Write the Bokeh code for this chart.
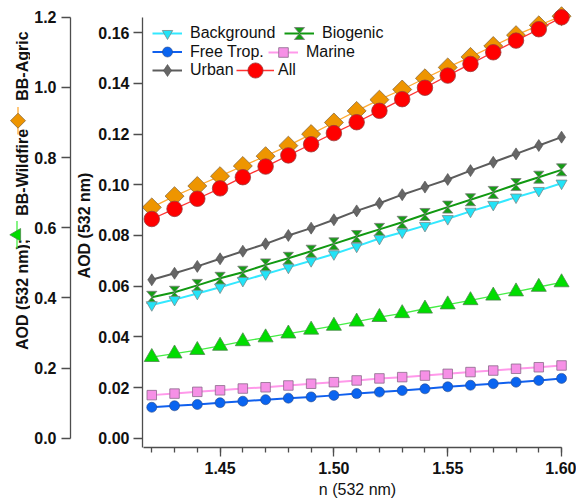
import math
from bokeh.plotting import figure
from bokeh.layouts import row
from bokeh.core.properties import value
from bokeh.models import (Range1d, LinearAxis, FixedTicker, PrintfTickFormatter, Legend,
                          LegendItem, CustomJS)
from bokeh.embed import file_html
from bokeh.resources import INLINE

# ---- data: AOD at 532 nm versus real refractive index n ----
n_532 = [1.42, 1.43, 1.44, 1.45, 1.46, 1.47, 1.48, 1.49, 1.50, 1.51,
         1.52, 1.53, 1.54, 1.55, 1.56, 1.57, 1.58, 1.59, 1.60]

background = [0.0526, 0.0547, 0.0571, 0.0596, 0.0622, 0.0648, 0.0674, 0.0700, 0.0727, 0.0757,
              0.0788, 0.0813, 0.0839, 0.0866, 0.0895, 0.0922, 0.0951, 0.0977, 0.1006]
biogenic = [0.0556, 0.0576, 0.0603, 0.0631, 0.0655, 0.0684, 0.0710, 0.0738, 0.0767, 0.0796,
            0.0824, 0.0852, 0.0883, 0.0912, 0.0941, 0.0970, 0.1001, 0.1030, 0.1059]
free_trop = [0.0122, 0.0128, 0.0133, 0.0140, 0.0146, 0.0152, 0.0158, 0.0163, 0.0169, 0.0176,
             0.0182, 0.0188, 0.0195, 0.0203, 0.0209, 0.0215, 0.0221, 0.0228, 0.0236]
marine = [0.0170, 0.0176, 0.0183, 0.0189, 0.0196, 0.0201, 0.0208, 0.0215, 0.0221, 0.0228,
          0.0236, 0.0241, 0.0247, 0.0254, 0.0261, 0.0267, 0.0274, 0.0280, 0.0287]
urban = [0.0625, 0.0651, 0.0678, 0.0708, 0.0738, 0.0767, 0.0800, 0.0829, 0.0862, 0.0897,
         0.0927, 0.0961, 0.0991, 0.1021, 0.1056, 0.1089, 0.1122, 0.1155, 0.1188]
all_types = [0.0865, 0.0905, 0.0945, 0.0986, 0.1030, 0.1072, 0.1116, 0.1160, 0.1204, 0.1247,
             0.1292, 0.1338, 0.1383, 0.1431, 0.1477, 0.1523, 0.1569, 0.1614, 0.1661]
# biomass burning types, read on the outer (left) axis
bb_wildfire = [0.231, 0.241, 0.251, 0.263, 0.276, 0.287, 0.298, 0.309, 0.320, 0.332,
               0.345, 0.356, 0.369, 0.381, 0.393, 0.406, 0.418, 0.431, 0.444]
bb_agric = [0.658, 0.690, 0.719, 0.747, 0.776, 0.804, 0.834, 0.867, 0.900, 0.933,
            0.965, 0.994, 1.026, 1.057, 1.087, 1.118, 1.149, 1.177, 1.203]

x_major = [1.45, 1.50, 1.55, 1.60]
x_minor = n_532
y_ticks = [0.00, 0.02, 0.04, 0.06, 0.08, 0.10, 0.12, 0.14, 0.16]
bb_ticks = [0.0, 0.2, 0.4, 0.6, 0.8, 1.0, 1.2]

# ---- page geometry (canvas pixels) ----
W, H = 576, 502
FL, FR, FT, FB = 140, 572, 3, 447   # plot frame edges on the canvas
BB_AXIS_X = 70                  # outer axis line
INNER_BORDER = 67               # room for the inner axis, its labels and title
C_LEFT = FL - INNER_BORDER      # where the main plot starts
W_A = 30                        # outer title strip
W_B = C_LEFT - W_A              # outer axis strip
W_C = W - C_LEFT                # main plot
FONT = "Liberation Sans"
AX_COLOR = "#4d4d4d"
TXT = "#111111"

Y_RANGE = (-0.00367, 0.17155)
BB_RANGE = (-0.02651, 1.23917)


def style_axis(ax):
    ax.axis_line_color = AX_COLOR
    ax.axis_line_width = 1.3
    ax.major_tick_line_color = AX_COLOR
    ax.major_tick_line_width = 1.3
    ax.minor_tick_line_color = AX_COLOR
    ax.minor_tick_line_width = 1.3
    ax.major_tick_in = 0
    ax.minor_tick_in = 0
    ax.major_tick_out = 9
    ax.major_label_text_font = FONT
    ax.major_label_text_font_style = "bold"
    ax.major_label_text_font_size = "16px"
    ax.major_label_text_color = TXT


def plain_fig(width, height, x_range, y_range, **borders):
    f = figure(width=width, height=height, output_backend="svg", toolbar_location=None,
               x_range=x_range, y_range=y_range, x_axis_type=None, y_axis_type=None,
               min_border_left=borders.get("left", 0), min_border_right=borders.get("right", 0),
               min_border_top=borders.get("top", 0), min_border_bottom=borders.get("bottom", 0))
    f.outline_line_color = None
    f.background_fill_color = "white"
    f.border_fill_color = "white"
    return f


def vtext(f, text, x, y, **kw):
    f.text(x=[x], y=[y], text=[text], angle=math.pi / 2, text_align="left",
           text_baseline="alphabetic", text_font=value(FONT), text_font_style="bold",
           text_font_size="16px", text_color=TXT, **kw)


# ---- main plot ----
p = figure(width=W_C, height=H, output_backend="svg", toolbar_location=None,
           x_range=Range1d(1.41593, 1.60481), y_range=Range1d(*Y_RANGE),
           min_border_left=INNER_BORDER, min_border_right=W - FR,
           min_border_top=FT, min_border_bottom=H - FB)
p.extra_y_ranges = {"bb": Range1d(*BB_RANGE)}
p.xgrid.visible = False
p.ygrid.visible = False
p.outline_line_color = None
p.background_fill_color = "white"
p.border_fill_color = "white"

xax = p.xaxis[0]
style_axis(xax)
xax.ticker = FixedTicker(ticks=x_major, minor_ticks=x_minor)
xax.formatter = PrintfTickFormatter(format="%.2f")
xax.minor_tick_out = 5
xax.bounds = (1.4164, 1.60)
xax.major_label_standoff = 5
xax.axis_label = "n (532 nm)"
xax.axis_label_text_font = FONT
xax.axis_label_text_font_style = "normal"
xax.axis_label_text_font_size = "16px"
xax.axis_label_text_color = TXT
xax.axis_label_standoff = 4

yax = p.yaxis[0]
style_axis(yax)
yax.ticker = FixedTicker(ticks=y_ticks, minor_ticks=[])
yax.formatter = PrintfTickFormatter(format="%.2f")
yax.bounds = (Y_RANGE[0], 0.1661)
yax.major_label_standoff = 4
yax.axis_label = "AOD (532 nm)"
yax.axis_label_text_font = FONT
yax.axis_label_text_font_style = "bold"
yax.axis_label_text_font_size = "16px"
yax.axis_label_text_color = TXT
yax.axis_label_standoff = 2

# custom hourglass marker for the biogenic series
hourglass = CustomJS(code="""
export default (args, obj, {ctx, i, r, visuals}) => {
  const a = 0.85*r
  ctx.moveTo(-a, -r)
  ctx.lineTo(a, -r)
  ctx.lineTo(-a, r)
  ctx.lineTo(a, r)
  ctx.closePath()
  visuals.fill.apply(ctx, i)
  visuals.hatch.apply(ctx, i)
  visuals.line.apply(ctx, i)
}
""")

# ---- series ----
agric_line = p.line(n_532, bb_agric, y_range_name="bb", line_color="#FFAA33", line_width=1.3)
agric_pts = p.scatter(n_532, bb_agric, y_range_name="bb", marker="square", angle=math.pi / 4,
                      size=13.4, fill_color="#EE9500", line_color="#8a6a3a", line_width=0.8)

wild_line = p.line(n_532, bb_wildfire, y_range_name="bb", line_color="#44EE44", line_width=1.3)
wild_pts = p.scatter(n_532, bb_wildfire, y_range_name="bb", marker="triangle", size=15,
                     fill_color="#00DD00", line_color="#4a8a4a", line_width=0.8)

ft_line = p.line(n_532, free_trop, line_color="#1060EE", line_width=2)
ft_pts = p.scatter(n_532, free_trop, marker="circle", size=10,
                   fill_color="#0A64F0", line_color="#2a4a8a", line_width=0.6)

mar_line = p.line(n_532, marine, line_color="#FF99EA", line_width=2)
mar_pts = p.scatter(n_532, marine, marker="square", size=9.5,
                    fill_color="#F690E6", line_color="#8a6a8a", line_width=0.8)

urb_line = p.line(n_532, urban, line_color="#5c5c5c", line_width=2)
urb_pts = p.scatter(n_532, urban, marker="diamond", size=12,
                    fill_color="#666666", line_color="#4a4a4a", line_width=0.6)

bio_line = p.line(n_532, biogenic, line_color="#119911", line_width=2)
bio_pts = p.scatter(n_532, biogenic, marker="@hourglass", defs={"@hourglass": hourglass},
                    size=12, fill_color="#149E14", line_color="#7a7a7a", line_width=0.8)

bg_line = p.line(n_532, background, line_color="#33E8FF", line_width=2)
bg_pts = p.scatter(n_532, background, marker="inverted_triangle", size=11,
                   fill_color="#22E3F7", line_color="#7a8a8a", line_width=0.8)

all_line = p.line(n_532, all_types, line_color="#FF3333", line_width=1.3)
all_pts = p.scatter(n_532, all_types, marker="circle", size=15.5,
                    fill_color="#FF0000", line_color="#9a3a3a", line_width=0.8)


# ---- legend: one entry per legend so each row flows like text ----
def add_entry(label, renderers, left, cy, gw, gh, standoff):
    leg = Legend(items=[LegendItem(label=label, renderers=renderers)],
                 location=(left - FL, (FB - cy) - gh / 2),
                 glyph_width=gw, glyph_height=gh, label_height=gh,
                 label_standoff=standoff, padding=0, margin=0, spacing=0,
                 border_line_color=None, background_fill_alpha=0,
                 label_text_font=FONT, label_text_font_size="16px",
                 label_text_color=TXT)
    p.add_layout(leg)


add_entry("Background", [bg_line, bg_pts], 150, 33.3, 30, 26, 8)
add_entry("Biogenic", [bio_line, bio_pts], 282, 33.3, 30, 30, 8)
add_entry("Free Trop.", [ft_line, ft_pts], 150, 51.7, 30, 25, 8)
add_entry("Marine", [mar_line, mar_pts], 266, 51.7, 30, 24, 8)
add_entry("Urban", [urb_line, urb_pts], 150, 70, 30, 30, 8)
add_entry("All", [all_line, all_pts], 234, 70, 38, 38, 4)

# ---- strip B: outer axis for the biomass burning types ----
pb = plain_fig(W_B, H, Range1d(0, C_LEFT - BB_AXIS_X), Range1d(*BB_RANGE),
               left=BB_AXIS_X - W_A, top=FT, bottom=H - FB)
bb_axis = LinearAxis()
style_axis(bb_axis)
bb_axis.ticker = FixedTicker(ticks=bb_ticks, minor_ticks=[])
bb_axis.formatter = PrintfTickFormatter(format="%.1f")
bb_axis.bounds = (0, 1.2)
bb_axis.major_label_standoff = 5
pb.add_layout(bb_axis, "left")

# ---- strip A: outer axis title with inline keys ----
pa = plain_fig(W_A, H, Range1d(0, W_A), Range1d(-H, 0))
vtext(pa, "AOD (532 nm);", 22, -391.7)
vtext(pa, "BB-Wildfire", 22, -240)
vtext(pa, "BB-Agric", 22, -110)
pa.line([16.5, 16.5], [-246, -277], line_color="#44EE44", line_width=1.3)
pa.scatter([16.5], [-261.5], marker="triangle", angle=math.pi / 2, size=12.5,
           fill_color="#00DD00", line_color="#4a8a4a", line_width=0.8)
pa.line([17.5, 17.5], [-117, -148], line_color="#FFAA33", line_width=1.3)
pa.scatter([17.5], [-132.5], marker="square", angle=math.pi / 4, size=10.6,
           fill_color="#EE9500", line_color="#8a6a3a", line_width=0.8)

layout = row(pa, pb, p, spacing=0)
open("out.html", "w").write(file_html(layout, INLINE))
